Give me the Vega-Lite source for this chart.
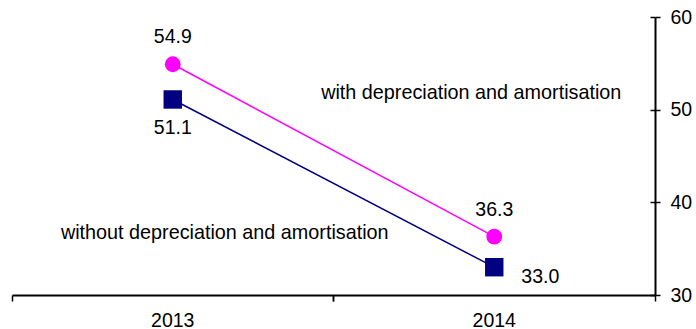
{
  "$schema": "https://vega.github.io/schema/vega-lite/v6.json",
  "width": 643,
  "height": 278,
  "autosize": {"type": "none"},
  "padding": {"left": 12, "top": 17, "right": 41, "bottom": 34},
  "config": {
    "view": {"stroke": null},
    "font": "Liberation Sans",
    "text": {"font": "Liberation Sans", "fontSize": 19.5, "color": "#000000"}
  },
  "datasets": {
    "ratio": [
      {"year": "2013", "series": "with", "value": 54.9},
      {"year": "2014", "series": "with", "value": 36.3},
      {"year": "2013", "series": "without", "value": 51.1},
      {"year": "2014", "series": "without", "value": 33.0}
    ],
    "notes": [
      {"year": "2014", "value": 51.8, "note": "with depreciation and amortisation"},
      {"year": "2013", "value": 36.7, "note": "without depreciation and amortisation"}
    ]
  },
  "layer": [
    {
      "encoding": {
        "x": {
          "field": "year", "type": "nominal",
          "scale": {"type": "band", "paddingInner": 0, "paddingOuter": 0},
          "axis": {
            "orient": "bottom", "title": null, "labelAngle": 0,
            "bandPosition": 0, "domainColor": "#000000", "domainWidth": 2,
            "tickColor": "#000000", "tickWidth": 1.5, "tickSize": 6,
            "labelFontSize": 19.5, "labelColor": "#000000", "labelPadding": 10,
            "labelFont": "Liberation Sans"
          }
        },
        "y": {
          "field": "value", "type": "quantitative",
          "scale": {"domain": [30, 60], "nice": false, "zero": false},
          "axis": {
            "orient": "right", "title": null, "grid": false,
            "values": [30, 40, 50, 60], "domainColor": "#000000", "domainWidth": 2,
            "tickColor": "#000000", "tickWidth": 1.5, "tickSize": 5,
            "labelFontSize": 19.5, "labelColor": "#000000", "labelPadding": 10,
            "labelFont": "Liberation Sans"
          }
        }
      },
      "layer": [
        {
          "data": {"name": "ratio"},
          "mark": {"type": "line", "strokeWidth": 1.5},
          "encoding": {
            "color": {
              "field": "series", "type": "nominal", "legend": null,
              "scale": {"domain": ["with", "without"], "range": ["#FF00FF", "#000080"]}
            }
          }
        },
        {
          "data": {"name": "ratio"},
          "mark": {"type": "point", "filled": true, "opacity": 1},
          "encoding": {
            "color": {
              "field": "series", "type": "nominal", "legend": null,
              "scale": {"domain": ["with", "without"], "range": ["#FF00FF", "#000080"]}
            },
            "shape": {
              "field": "series", "type": "nominal", "legend": null,
              "scale": {"domain": ["with", "without"], "range": ["circle", "square"]}
            },
            "size": {
              "field": "series", "type": "nominal", "legend": null,
              "scale": {"domain": ["with", "without"], "range": [250, 340]}
            }
          }
        },
        {
          "data": {"name": "ratio"},
          "transform": [{"filter": "datum.series === 'with'"}],
          "mark": {"type": "text", "dy": -27, "align": "center", "baseline": "middle"},
          "encoding": {"text": {"field": "value", "type": "quantitative", "format": ".1f"}}
        },
        {
          "data": {"name": "ratio"},
          "transform": [{"filter": "datum.series === 'without' && datum.year === '2013'"}],
          "mark": {"type": "text", "dy": 29, "align": "center", "baseline": "middle"},
          "encoding": {"text": {"field": "value", "type": "quantitative", "format": ".1f"}}
        },
        {
          "data": {"name": "ratio"},
          "transform": [{"filter": "datum.series === 'without' && datum.year === '2014'"}],
          "mark": {"type": "text", "dx": 46, "dy": 10, "align": "center", "baseline": "middle"},
          "encoding": {"text": {"field": "value", "type": "quantitative", "format": ".1f"}}
        },
        {
          "data": {"name": "notes"},
          "transform": [{"filter": "datum.year === '2014'"}],
          "mark": {"type": "text", "dx": -23, "align": "center", "baseline": "middle", "fontSize": 19.8},
          "encoding": {"text": {"field": "note"}}
        },
        {
          "data": {"name": "notes"},
          "transform": [{"filter": "datum.year === '2013'"}],
          "mark": {"type": "text", "dx": 52, "align": "center", "baseline": "middle", "fontSize": 19.8},
          "encoding": {"text": {"field": "note"}}
        }
      ]
    },
    {
      "data": {"name": "ratio"},
      "mark": {"type": "point", "opacity": 0},
      "encoding": {
        "x": {
          "field": "year", "type": "nominal",
          "scale": {"type": "band", "paddingInner": 0, "paddingOuter": 0},
          "axis": {
            "orient": "bottom", "title": null, "labels": false, "domain": false,
            "bandPosition": 1, "tickColor": "#000000", "tickWidth": 1.5, "tickSize": 6
          }
        },
        "y": {
          "field": "value", "type": "quantitative",
          "scale": {"domain": [30, 60], "nice": false, "zero": false},
          "axis": {
            "orient": "right", "title": null, "grid": false, "labels": false, "domain": false,
            "values": [30, 40, 50, 60], "tickColor": "#000000", "tickWidth": 1.5, "tickSize": -5
          }
        }
      }
    }
  ],
  "resolve": {"axis": {"x": "independent", "y": "independent"}}
}
